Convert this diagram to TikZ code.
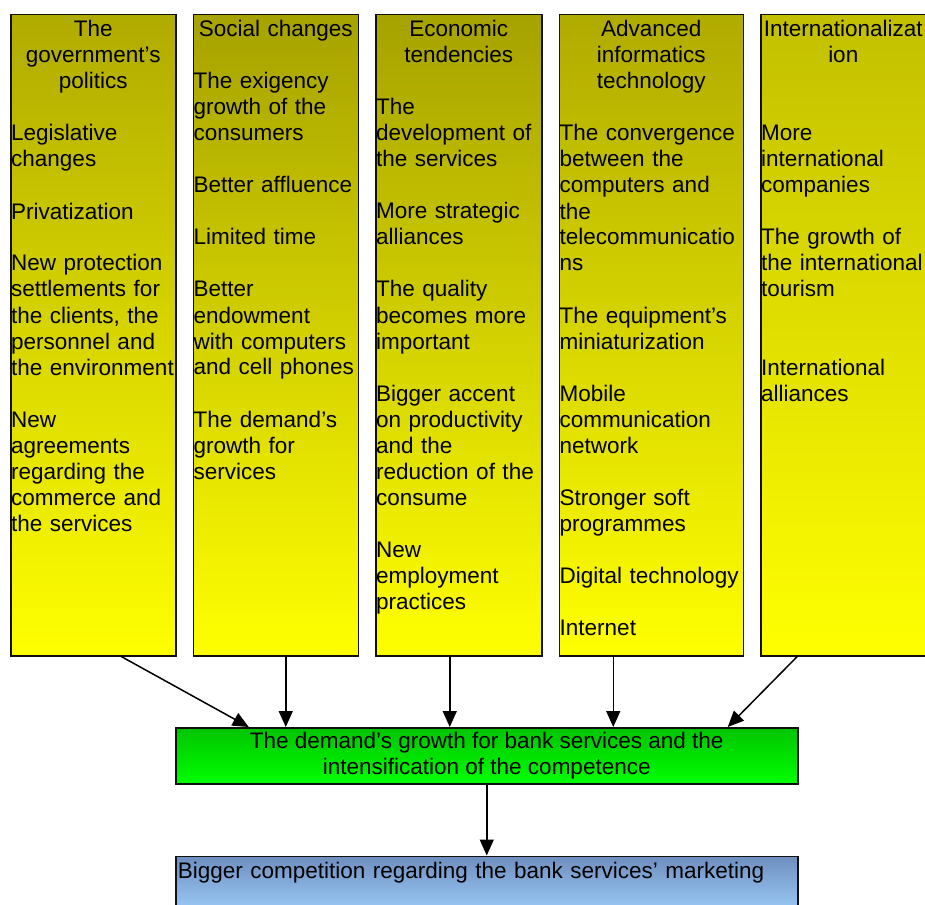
\documentclass[tikz,border=0pt]{standalone}
\usepackage{fontspec}
\setmainfont{Liberation Sans}
\usetikzlibrary{arrows.meta, positioning}
\definecolor{frame}{HTML}{111111}
\definecolor{olive}{HTML}{B0AB00}
\definecolor{darkolive}{HTML}{A6A200}
\definecolor{lightolive}{HTML}{C2BF00}
\definecolor{deepgreen}{HTML}{00C400}
\definecolor{brightgreen}{HTML}{00FF00}
\definecolor{steelblue}{HTML}{6E8FBF}
\definecolor{paleblue}{HTML}{9CCBF8}

\begin{document}
\begin{tikzpicture}[x=1pt, y=1pt]
\tikzstyle{column} = [rectangle, draw=frame, line width=1.5pt, minimum height=641pt, bottom color=yellow, top color=olive, anchor=north west]
\tikzstyle{title} = [anchor=base, align=center, inner sep=0pt, font=\fontsize{22.5}{26}\selectfont]
\tikzstyle{items} = [anchor=base west, align=left, inner sep=0pt, font=\fontsize{22.5}{26}\selectfont]
\tikzstyle{box} = [rectangle, draw=frame, line width=1.5pt, minimum width=622pt, minimum height=56pt, font=\fontsize{22.5}{26}\selectfont]
\tikzstyle{arrow} = [line width=1.5pt, -{Triangle[length=16pt, width=14pt]}]

\useasboundingbox (0,0) rectangle (925,-904);

\node (gov) [column, minimum width=165pt] at (10,-14) {};
\node (social) [column, minimum width=165pt, top color=darkolive, right=16pt of gov] {};
\node (eco) [column, minimum width=166pt, top color=darkolive, right=16pt of social] {};
\node (tech) [column, minimum width=184pt, right=16pt of eco] {};
\node (intl) [column, minimum width=165pt, top color=lightolive, right=16pt of tech] {};

\node (gov-title) [title, text width=161pt] at ([yshift=-23pt]gov.north) {The\\government’s\\politics};
\node (gov-items) [items, text width=163pt] at ([xshift=1pt, yshift=-127pt]gov.north west)
  {Legislative\\changes\\[26pt]Privatization\\[26pt]New protection\\settlements for\\the clients, the\\personnel and\\the environment\\[26pt]New\\agreements\\regarding the\\commerce and\\the services};

\node (social-title) [title, text width=161pt] at ([yshift=-23pt]social.north) {Social changes};
\node (social-items) [items, text width=163pt] at ([xshift=1pt, yshift=-75pt]social.north west)
  {The exigency\\growth of the\\consumers\\[26pt]Better affluence\\[26pt]Limited time\\[26pt]Better\\endowment\\with computers\\and cell phones\\[26pt]The demand’s\\growth for\\services};

\node (eco-title) [title, text width=162pt] at ([yshift=-23pt]eco.north) {Economic\\tendencies};
\node (eco-items) [items, text width=164pt] at ([xshift=1pt, yshift=-101pt]eco.north west)
  {The\\development of\\the services\\[26pt]More strategic\\alliances\\[26pt]The quality\\becomes more\\important\\[26pt]Bigger accent\\on productivity\\and the\\reduction of the\\consume\\[26pt]New\\employment\\practices};

\node (tech-title) [title, text width=180pt] at ([yshift=-23pt]tech.north) {Advanced\\informatics\\technology};
\node (tech-items) [items, text width=182pt] at ([xshift=1pt, yshift=-127pt]tech.north west)
  {The convergence\\between the\\computers and\\the\\telecommunicatio\\ns\\[26pt]The equipment’s\\miniaturization\\[26pt]Mobile\\communication\\network\\[26pt]Stronger soft\\programmes\\[26pt]Digital technology\\[26pt]Internet};

\node (intl-title) [title, text width=161pt] at ([yshift=-23pt]intl.north) {Internationalizat\\ion};
\node (intl-items) [items, text width=163pt] at ([xshift=1pt, yshift=-127pt]intl.north west)
  {More\\international\\companies\\[26pt]The growth of\\the international\\tourism\\[52pt]International\\alliances};

\node (demand) [box, top color=deepgreen, bottom color=brightgreen, align=center, text depth=4pt, anchor=north west] at (175,-727)
  {The demand’s growth for bank services and the\\intensification of the competence};
\node (market) [box, top color=steelblue, bottom color=paleblue, text width=618pt, align=left, inner sep=1pt, text height=21pt, text depth=33pt, below=71pt of demand]
  {Bigger competition regarding the bank services’ marketing};

\draw[arrow] ([xshift=28pt]gov.south) -- ([xshift=-238pt]demand.north);
\draw[arrow] ([xshift=10pt]social.south) -- ([xshift=10pt]social.south |- demand.north);
\draw[arrow] ([xshift=-9pt]eco.south) -- ([xshift=-9pt]eco.south |- demand.north);
\draw[arrow] ([xshift=-38pt]tech.south) -- ([xshift=-38pt]tech.south |- demand.north);
\draw[arrow] ([xshift=-46pt]intl.south) -- ([xshift=241pt]demand.north);
\draw[arrow] (demand.south) -- (market.north);

\end{tikzpicture}
\end{document}
